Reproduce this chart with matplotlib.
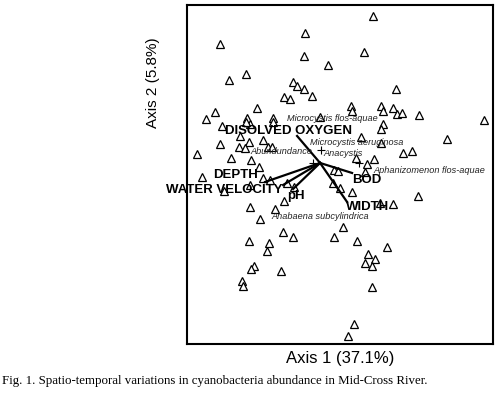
import matplotlib
matplotlib.use("Agg")
import matplotlib.pyplot as plt

plt.rcParams['font.family'] = ['Liberation Sans', 'DejaVu Sans']

# site scores (triangles)
site_x = [-0.15, -1.00, -0.16, 0.08, -0.74, -0.91, -0.27, -0.23, -0.16, -0.08,
          -0.36, -0.30, -0.63, -1.05, -1.14, -0.73, -0.47, 0.00, 0.53, 0.44,
          0.76, 0.31, 0.32, 0.61, 0.63, 0.73, 0.77, 0.82, 0.99, 1.64,
          -0.98, -0.70, -0.74, -0.47, 0.63, 0.61, 0.41, 1.27, 0.61, 0.83,
          0.92, 0.36, 0.54, 0.47, 0.45, 0.32, 0.98, 0.60, 0.73, 0.23,
          -0.80, -0.71, -0.81, -0.75, -0.57, -0.52, -0.48, -1.00, -1.23, -0.89,
          -0.69, -0.61, -1.18, -0.70, -0.57, -0.50, -0.33, -0.26, -0.96, -0.36,
          -0.70, -0.45, -0.60, -0.37, -0.27, -0.71, -0.51, -0.53, 0.14, 0.37,
          0.67, 0.48, 0.55, 0.45, 0.52, -0.66, -0.69, -0.39, -0.78, -0.77,
          0.52, 0.34, 0.28, 0.14, 0.18, 0.13, 0.20]
site_y = [1.30, 1.19, 1.07, 0.98, 0.89, 0.83, 0.81, 0.77, 0.74, 0.67,
          0.66, 0.64, 0.55, 0.51, 0.44, 0.45, 0.45, 0.46, 1.47, 1.11,
          0.74, 0.57, 0.52, 0.57, 0.52, 0.55, 0.49, 0.50, 0.48, 0.43,
          0.37, 0.39, 0.41, 0.41, 0.39, 0.34, 0.26, 0.24, 0.20, 0.10,
          0.12, 0.05, 0.04, -0.01, -0.09, -0.29, -0.33, -0.40, -0.41, -0.64,
          0.27, 0.21, 0.16, 0.15, 0.23, 0.16, 0.16, 0.19, 0.09, 0.05,
          0.03, -0.04, -0.14, -0.22, -0.15, -0.17, -0.20, -0.24, -0.28, -0.38,
          -0.44, -0.46, -0.56, -0.69, -0.74, -0.78, -0.80, -0.88, -0.74, -0.78,
          -0.84, -0.91, -0.96, -1.00, -1.03, -1.03, -1.06, -1.08, -1.18, -1.23,
          -1.24, -1.61, -1.73, -0.07, -0.08, -0.20, -0.25]

# environmental vectors
env_names = ['DISOLVED OXYGEN', 'DEPTH', 'WATER VELOCITY', 'pH', 'BOD', 'WIDTH']
env_x = [-0.23, -0.55, -0.37, -0.27, 0.32, 0.27]
env_y = [0.27, -0.19, -0.22, -0.26, -0.10, -0.39]
env_lab_x = [-0.32, -0.85, -0.96, -0.24, 0.47, 0.47]
env_lab_y = [0.32, -0.12, -0.27, -0.33, -0.17, -0.44]

# species
sp_x = [0.01, 0.39, -0.07]
sp_y = [0.13, 0.00, 0.00]

fig = plt.figure(figsize=(4.99, 3.99), dpi=100)
ax = fig.add_axes([0.375, 0.138, 0.613, 0.8495])

ax.plot(site_x, site_y, ls='none', marker='^', ms=6, mfc='white',
        mec='black', mew=0.9)

for i in range(len(env_names)):
    ax.plot([0, env_x[i]], [0, env_y[i]], color='black', lw=1.6)
    ax.text(env_lab_x[i], env_lab_y[i], env_names[i], fontsize=9.5,
            fontweight='bold', ha='center', va='center')

ax.plot(sp_x, sp_y, ls='none', marker='+', ms=6, color='black', mew=0.8)

ax.text(0.12, 0.44, 'Microcystis flos-aquae', fontsize=6.6, style='italic',
        ha='center', va='center', color='#222222')
ax.text(0.37, 0.20, 'Microcystis aeruginosa', fontsize=6.6, style='italic',
        ha='center', va='center', color='#222222')
ax.text(-0.08, 0.11, 'Abundundance', fontsize=6.6, style='italic',
        ha='right', va='center', color='#222222')
ax.text(0.03, 0.09, 'Anacystis', fontsize=6.6, style='italic',
        ha='left', va='center', color='#222222')
ax.text(0.53, -0.08, 'Aphanizomenon flos-aquae', fontsize=6.6, style='italic',
        ha='left', va='center', color='#222222')
ax.text(0.0, -0.54, 'Anabaena subcylindrica', fontsize=6.6, style='italic',
        ha='center', va='center', color='#222222')

ax.set_xlim(-1.33, 1.73)
ax.set_ylim(-1.81, 1.58)
ax.set_xticks([])
ax.set_yticks([])
for s in ax.spines.values():
    s.set_linewidth(1.5)

ax.set_xlabel('Axis 1 (37.1%)', fontsize=12, labelpad=5)
ax.set_ylabel('Axis 2 (5.8%)', fontsize=11, labelpad=14)
ax.yaxis.set_label_coords(-0.09, 0.77)

fig.text(0.004, 1 - 381 / 399, 'Fig. 1. Spatio-temporal variations in cyanobacteria abundance in Mid-Cross River.',
         fontsize=9.3, family='Liberation Serif', va='center', ha='left')

fig.savefig('out.png', dpi=100)
